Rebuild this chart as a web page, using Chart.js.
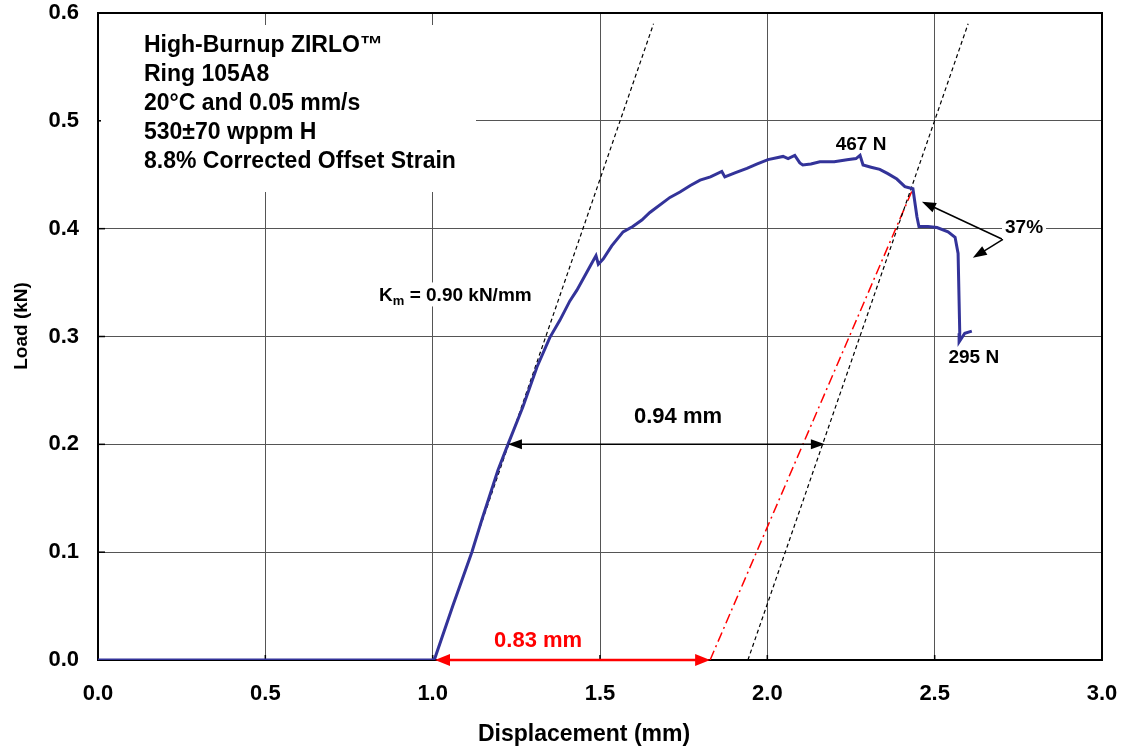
<!DOCTYPE html>
<html>
<head>
<meta charset="utf-8">
<script src="https://cdn.jsdelivr.net/npm/chart.js@4.4.1/dist/chart.umd.min.js"></script>
<style>
  html, body { margin: 0; padding: 0; background: #fff; }
  #chart { display: block; }
</style>
</head>
<body>
<canvas id="chart" width="1125" height="750"></canvas>
<script>
// Ring compression test: load vs displacement
const displacement = [0, 1.0, 1.007, 1.06, 1.117, 1.147, 1.195, 1.225, 1.27, 1.312, 1.35, 1.38, 1.41, 1.431, 1.47, 1.488, 1.495, 1.51,
    1.535, 1.569, 1.598, 1.625, 1.649, 1.709, 1.739, 1.77, 1.799, 1.83, 1.864, 1.873, 1.905, 1.939, 1.97, 2.002, 2.047, 2.062,
    2.082, 2.097, 2.106, 2.13, 2.157, 2.2, 2.238, 2.265, 2.277, 2.286, 2.31, 2.336, 2.36, 2.387, 2.411, 2.435, 2.447, 2.453,
    2.48, 2.507, 2.54, 2.561, 2.57, 2.575, 2.573, 2.59, 2.611];
const load = [0, 0, 0.002, 0.05, 0.1, 0.13, 0.176, 0.2, 0.235, 0.272, 0.299, 0.315, 0.333, 0.343, 0.365, 0.375, 0.367, 0.372,
    0.384, 0.397, 0.402, 0.408, 0.415, 0.429, 0.434, 0.44, 0.445, 0.448, 0.453, 0.448, 0.452, 0.456, 0.46, 0.464, 0.467, 0.465,
    0.468, 0.461, 0.459, 0.46, 0.462, 0.462, 0.464, 0.465, 0.468, 0.459, 0.457, 0.455, 0.451, 0.446, 0.439, 0.437, 0.411, 0.402,
    0.402, 0.401, 0.397, 0.392, 0.377, 0.303, 0.295, 0.303, 0.305];

// elastic slope lines (Km = 0.90 kN/mm)
const elasticX = [1.005, 1.66];
const elasticY = [0, 0.59];
const offsetX = [1.942, 2.60];
const offsetY = [0, 0.59];
// corrected unloading line (red)
const correctedX = [1.829, 2.435];
const correctedY = [0, 0.437];

const xTicks = [0, 0.5, 1.0, 1.5, 2.0, 2.5, 3.0];
const yTicks = [0, 0.1, 0.2, 0.3, 0.4, 0.5, 0.6];

const infoLines = ['High-Burnup ZIRLO™', 'Ring 105A8', '20°C and 0.05 mm/s', '530±70 wppm H', '8.8% Corrected Offset Strain'];

const FONT = '"Liberation Sans", Arial, sans-serif';

function pts(xs, ys) {
    return xs.map((x, i) => ({ x: x, y: ys[i] }));
}

function arrowHead(ctx, x1, y1, x2, y2, len, half) {
    const a = Math.atan2(y2 - y1, x2 - x1);
    const c = Math.cos(a), s = Math.sin(a);
    ctx.beginPath();
    ctx.moveTo(x2, y2);
    ctx.lineTo(x2 - len * c + half * s, y2 - len * s - half * c);
    ctx.lineTo(x2 - len * c - half * s, y2 - len * s + half * c);
    ctx.closePath();
    ctx.fill();
}

function arrow(ctx, x1, y1, x2, y2, color, width, len, half, both) {
    const a = Math.atan2(y2 - y1, x2 - x1);
    const c = Math.cos(a), s = Math.sin(a);
    ctx.save();
    ctx.strokeStyle = color;
    ctx.fillStyle = color;
    ctx.lineWidth = width;
    ctx.beginPath();
    ctx.moveTo(both ? x1 + (len - 2) * c : x1, both ? y1 + (len - 2) * s : y1);
    ctx.lineTo(x2 - (len - 2) * c, y2 - (len - 2) * s);
    ctx.stroke();
    arrowHead(ctx, x1, y1, x2, y2, len, half);
    if (both) arrowHead(ctx, x2, y2, x1, y1, len, half);
    ctx.restore();
}

function label(ctx, text, x, y, size, color, bg) {
    ctx.save();
    ctx.font = 'bold ' + size + 'px ' + FONT;
    ctx.textAlign = 'center';
    ctx.textBaseline = 'middle';
    if (bg) {
        const w = ctx.measureText(text).width;
        ctx.fillStyle = '#fff';
        ctx.fillRect(x - w / 2 - 3, y - size * 0.6, w + 6, size * 1.2);
    }
    ctx.fillStyle = color;
    ctx.fillText(text, x, y);
    ctx.restore();
}

// frame, inner ticks and the info box (under the data)
const framePlugin = {
    id: 'frame',
    beforeDatasetsDraw(chart) {
        const { ctx, chartArea: a, scales } = chart;
        ctx.save();
        ctx.strokeStyle = '#000';
        ctx.lineWidth = 1.5;
        yTicks.forEach(v => {
            const py = scales.y.getPixelForValue(v);
            ctx.beginPath(); ctx.moveTo(a.left, py); ctx.lineTo(a.left + 7, py); ctx.stroke();
        });
        xTicks.forEach(v => {
            const px = scales.x.getPixelForValue(v);
            ctx.beginPath(); ctx.moveTo(px, a.bottom); ctx.lineTo(px, a.bottom - 5); ctx.stroke();
        });
        ctx.lineWidth = 2;
        ctx.strokeRect(a.left, a.top, a.right - a.left, a.bottom - a.top);

        // info box
        ctx.fillStyle = '#fff';
        ctx.fillRect(a.left + 3, a.top + 12, 375, 167);
        ctx.fillStyle = '#000';
        ctx.font = 'bold 23px ' + FONT;
        ctx.textAlign = 'left';
        ctx.textBaseline = 'middle';
        infoLines.forEach((t, i) => {
            ctx.fillText(t, a.left + 46, a.top + 33 + i * 28.8);
        });
        ctx.restore();
    }
};

// arrows and callouts
const notesPlugin = {
    id: 'notes',
    afterDatasetsDraw(chart) {
        const { ctx, scales } = chart;
        const X = v => scales.x.getPixelForValue(v);
        const Y = v => scales.y.getPixelForValue(v);

        arrow(ctx, X(1.225), Y(0.2), X(2.172), Y(0.2), '#000', 1.5, 14, 5, true);
        arrow(ctx, X(1.007), Y(0), X(1.829), Y(0), '#ff0000', 2.5, 15, 6, true);
        arrow(ctx, X(2.704), Y(0.39), X(2.462), Y(0.425), '#000', 1.5, 14, 5, false);
        arrow(ctx, X(2.704), Y(0.39), X(2.614), Y(0.373), '#000', 1.5, 14, 5, false);

        label(ctx, '0.94 mm', X(1.733), Y(0.225), 22, '#000', false);
        label(ctx, '0.83 mm', X(1.315), Y(0.018), 22, '#ff0000', false);
        label(ctx, '467 N', X(2.28), Y(0.478), 19, '#000', false);
        label(ctx, '295 N', X(2.617), Y(0.28), 19, '#000', false);
        label(ctx, '37%', X(2.767), Y(0.401), 19, '#000', true);

        // K_m label with subscript
        ctx.save();
        const x0 = X(0.84), y0 = Y(0.339);
        const big = 'bold 19px ' + FONT, small = 'bold 13px ' + FONT;
        ctx.font = big;
        const wK = ctx.measureText('K').width;
        const rest = ' = 0.90 kN/mm';
        const wR = ctx.measureText(rest).width;
        ctx.font = small;
        const wm = ctx.measureText('m').width;
        ctx.fillStyle = '#fff';
        ctx.fillRect(x0 - 2, y0 - 12, wK + wm + wR + 4, 24);
        ctx.fillStyle = '#000';
        ctx.textAlign = 'left';
        ctx.textBaseline = 'alphabetic';
        ctx.font = big;
        ctx.fillText('K', x0, y0 + 7);
        ctx.font = small;
        ctx.fillText('m', x0 + wK, y0 + 11);
        ctx.font = big;
        ctx.fillText(rest, x0 + wK + wm, y0 + 7);
        ctx.restore();
    }
};

new Chart(document.getElementById('chart'), {
    type: 'scatter',
    data: {
        datasets: [{
            label: 'Load',
            data: pts(displacement, load),
            showLine: true,
            borderColor: '#333399',
            borderWidth: 3,
            pointRadius: 0,
            tension: 0
        }, {
            label: 'Elastic',
            data: pts(elasticX, elasticY),
            showLine: true,
            borderColor: '#000',
            borderWidth: 1.2,
            borderDash: [4, 3],
            pointRadius: 0
        }, {
            label: 'Offset',
            data: pts(offsetX, offsetY),
            showLine: true,
            borderColor: '#000',
            borderWidth: 1.2,
            borderDash: [4, 3],
            pointRadius: 0
        }, {
            label: 'Corrected',
            data: pts(correctedX, correctedY),
            showLine: true,
            borderColor: '#ff0000',
            borderWidth: 1.5,
            borderDash: [10, 4, 2, 4],
            pointRadius: 0
        }]
    },
    options: {
        responsive: false,
        animation: false,
        layout: { padding: { top: 13, right: 23, left: 0, bottom: 0 } },
        plugins: {
            legend: { display: false },
            tooltip: { enabled: false }
        },
        scales: {
            x: {
                type: 'linear',
                min: 0,
                max: 3,
                afterFit: s => {
                    s.height = 90;
                    s.paddingLeft = 0;
                    s.paddingRight = 0;
                },
                afterBuildTicks: s => { s.ticks = xTicks.map(v => ({ value: v })); },
                grid: { color: '#555', lineWidth: 1, drawTicks: false },
                border: { color: '#000', width: 2 },
                ticks: {
                    padding: 21,
                    color: '#000',
                    font: { family: FONT, size: 22, weight: 'bold' },
                    callback: v => v.toFixed(1)
                },
                title: {
                    display: true,
                    // trailing spaces nudge the title left like the original
                    text: 'Displacement (mm)     ',
                    color: '#000',
                    font: { family: FONT, size: 23, weight: 'bold' },
                    padding: { top: 0, bottom: 2 }
                }
            },
            y: {
                type: 'linear',
                min: 0,
                max: 0.6,
                afterFit: s => {
                    s.width = 98;
                    s.paddingTop = 0;
                    s.paddingBottom = 0;
                },
                afterBuildTicks: s => { s.ticks = yTicks.map(v => ({ value: v })); },
                grid: { color: '#555', lineWidth: 1, drawTicks: false },
                border: { color: '#000', width: 2 },
                ticks: {
                    padding: 19,
                    color: '#000',
                    font: { family: FONT, size: 22, weight: 'bold' },
                    callback: v => v.toFixed(1)
                },
                title: {
                    display: true,
                    text: '    Load (kN)',
                    color: '#000',
                    font: { family: FONT, size: 19, weight: 'bold' },
                    padding: { top: 10, bottom: 0 }
                }
            }
        }
    },
    plugins: [framePlugin, notesPlugin]
});
</script>
</body>
</html>
